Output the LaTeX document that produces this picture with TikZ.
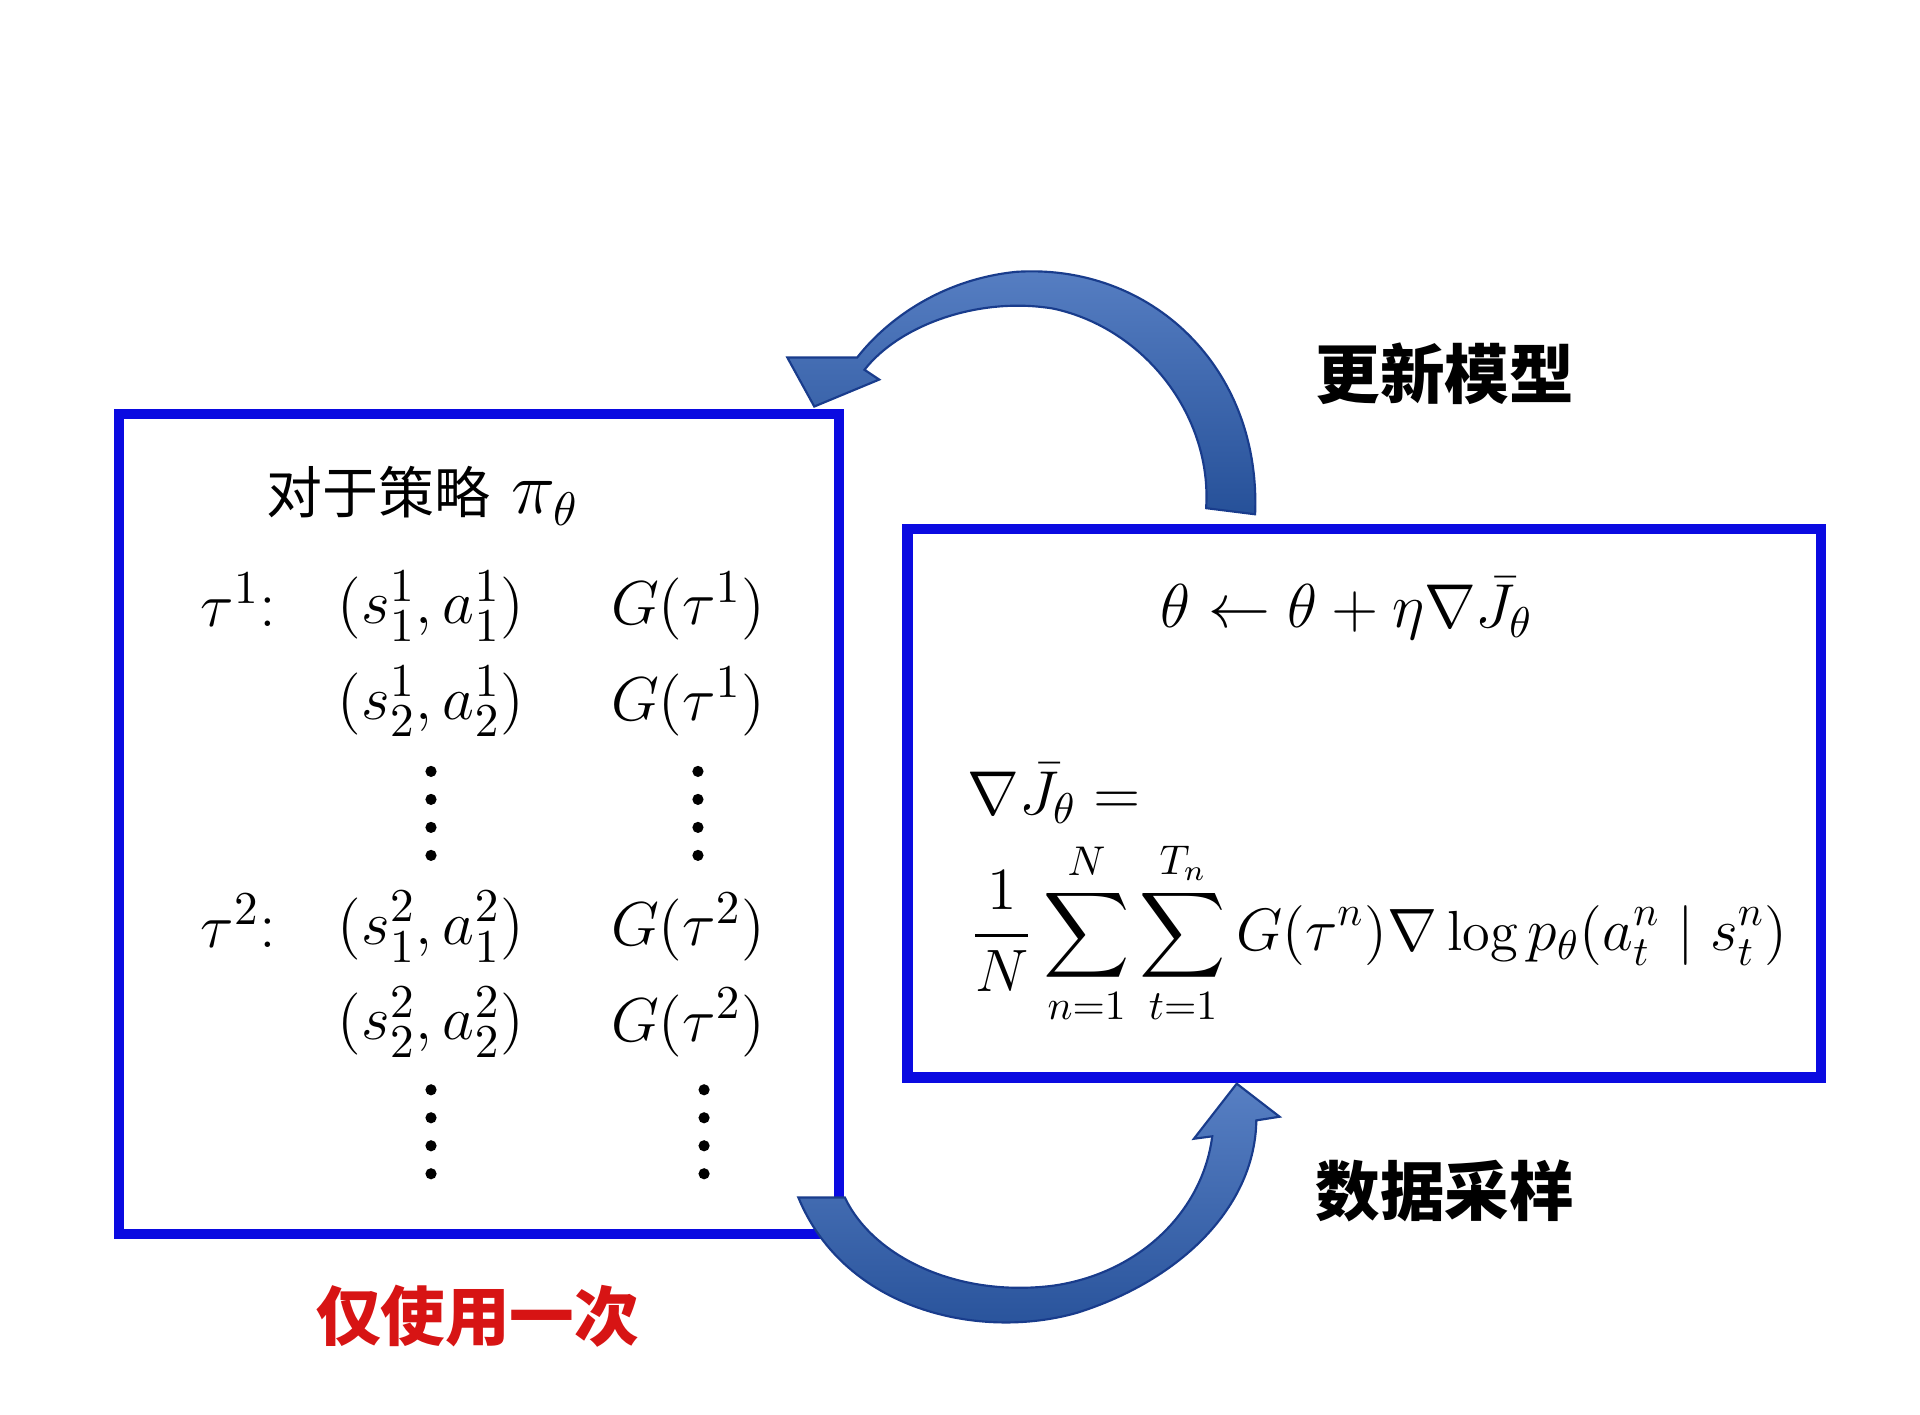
\documentclass[tikz,border=0pt]{standalone}
\usepackage{amsmath}
\usepackage{fontspec}
\newfontfamily\cjk{Noto Sans CJK SC}
\usetikzlibrary{positioning,calc}
\definecolor{boxblue}{RGB}{10,10,225}
\definecolor{arrowblue}{RGB}{45,95,180}
\definecolor{arrowedge}{RGB}{25,60,140}
\definecolor{labelred}{RGB}{215,20,20}

\begin{document}
\begin{tikzpicture}[
    x=0.01cm, y=-0.01cm,
    frame/.style={draw=boxblue, line width=2.4pt},
    fatarrow/.style={draw=arrowedge, line width=0.5pt, top color=arrowblue!80!white, bottom color=arrowblue!85!black},
    cjklabel/.style={font=\cjk\bfseries\fontsize{15}{18}\selectfont},
    formula/.style={font=\fontsize{15.5}{19}\selectfont},
    rformula/.style={font=\fontsize{13.6}{17}\selectfont},
    vdotline/.style={line width=2.6pt, line cap=round, dash pattern=on 0pt off 6.5pt}
]
    \useasboundingbox (0,0) rectangle (1568,1155);

    % Boxes
    \draw[frame] (97,338) rectangle (685,1008);
    \draw[frame] (741,432) rectangle (1487,880);

    % Left box content
    \node[font=\cjk\fontsize{13}{16}\selectfont] (policy) at (345,405) {对于策略 \,\fontsize{16}{19}\selectfont$\pi_\theta$};
    \node[formula] (tau1) at (195,490) {$\tau^1$:};
    \node[formula] (p11) at (352,495) {$(s_1^1,a_1^1)$};
    \node[formula] (g11) at (562,495) {$G(\tau^1)$};
    \node[formula] (p12) at (352,573) {$(s_2^1,a_2^1)$};
    \node[formula] (g12) at (562,573) {$G(\tau^1)$};
    \node[formula] (tau2) at (195,752) {$\tau^2$:};
    \node[formula] (p21) at (352,757) {$(s_1^2,a_1^2)$};
    \node[formula] (g21) at (562,757) {$G(\tau^2)$};
    \node[formula] (p22) at (352,835) {$(s_2^2,a_2^2)$};
    \node[formula] (g22) at (562,835) {$G(\tau^2)$};
    \foreach \x/\y in {352/630, 570/630, 352/890, 575/890}
        \draw[vdotline] (\x,\y) -- ++(0,72);

    % Right box content
    \node[rformula] (update) at (1100,497) {$\theta \leftarrow \theta + \eta\nabla \bar{J}_\theta$};
    \node[rformula, anchor=west] (grad) at (778,648) {$\nabla \bar{J}_\theta =$};
    \node[rformula, anchor=west] (sum) at (780,762) {\scalebox{0.965}{$\displaystyle \frac{1}{N}\sum_{n=1}^{N}\sum_{t=1}^{T_n} G(\tau^n)\nabla \log p_\theta(a_t^n \mid s_t^n)$}};

    % Curved arrows
    \path[fatarrow] (1025,420) .. controls (1030,300) and (940,215) .. (830,222)
        .. controls (770,228) and (725,260) .. (700,292) -- (643,292) -- (665,332) -- (718,310)
        -- (706,302) .. controls (735,265) and (800,242) .. (860,252)
        .. controls (935,268) and (990,340) .. (985,415) -- cycle;
    \path[fatarrow] (652,978) .. controls (690,1070) and (800,1095) .. (880,1072)
        .. controls (965,1045) and (1025,985) .. (1026,915) -- (1045,912) -- (1010,885) -- (975,930)
        -- (990,928) .. controls (982,990) and (930,1040) .. (860,1050)
        .. controls (780,1060) and (712,1025) .. (690,978) -- cycle;

    % Labels
    \node[cjklabel] (renew) at (1180,305) {更新模型};
    \node[cjklabel] (sample) at (1180,973) {数据采样};
    \node[cjklabel, text=labelred] (once) at (390,1075) {仅使用一次};
\end{tikzpicture}
\end{document}
